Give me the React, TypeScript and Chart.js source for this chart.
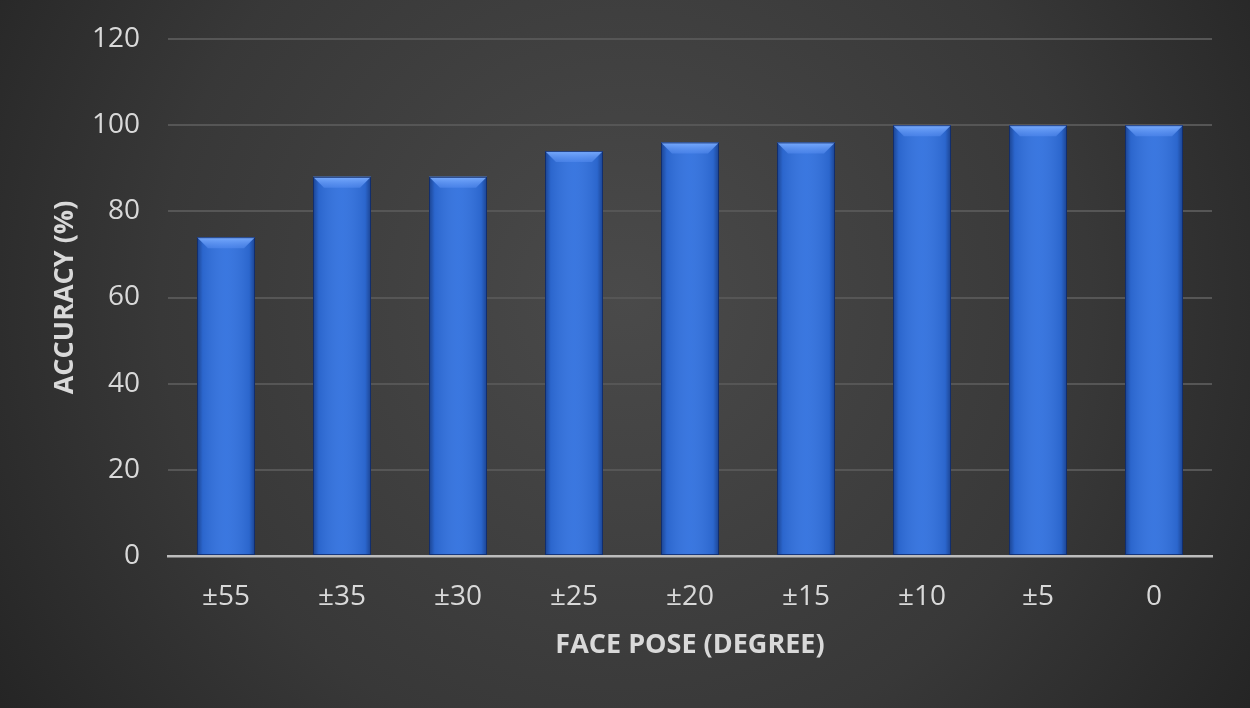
import React, { useEffect, useRef } from "react";
import { Chart, registerables } from "chart.js";

Chart.register(...registerables);

const categories = ["±55", "±35", "±30", "±25", "±20", "±15", "±10", "±5", "0"];
const accuracy = [74, 88, 88, 94, 96, 96, 100, 100, 100];
const yTicks = [0, 20, 40, 60, 80, 100, 120];
const xTitle = "FACE POSE (DEGREE)";
const yTitle = "ACCURACY (%)";

const FONT = "'Open Sans', 'DejaVu Sans', sans-serif";

const bgPlugin = {
  id: "bgPlugin",
  beforeDraw(chart: any) {
    const { ctx, width, height } = chart;
    ctx.save();
    const g = ctx.createRadialGradient(width * 0.5, height * 0.42, 0, width * 0.5, height * 0.42, width * 0.62);
    g.addColorStop(0, "#4a4a4a");
    g.addColorStop(0.6, "#383838");
    g.addColorStop(1, "#232323");
    ctx.fillStyle = g;
    ctx.fillRect(0, 0, width, height);
    ctx.restore();
  },
};

const bevelPlugin = {
  id: "bevelPlugin",
  afterDatasetsDraw(chart: any) {
    const { ctx } = chart;
    const meta = chart.getDatasetMeta(0);
    ctx.save();
    meta.data.forEach((bar: any) => {
      const { x, y, base, width } = bar.getProps(["x", "y", "base", "width"], true);
      const l = x - width / 2;
      const r = x + width / 2;
      const h = base - y;
      const g = ctx.createLinearGradient(l, 0, r, 0);
      g.addColorStop(0, "rgba(10,30,80,0.55)");
      g.addColorStop(0.1, "rgba(10,30,80,0.12)");
      g.addColorStop(0.5, "rgba(255,255,255,0.05)");
      g.addColorStop(0.9, "rgba(10,30,80,0.12)");
      g.addColorStop(1, "rgba(10,30,80,0.55)");
      ctx.fillStyle = g;
      ctx.fillRect(l, y, width, h);
      const b = 11;
      ctx.beginPath();
      ctx.moveTo(l, y);
      ctx.lineTo(r, y);
      ctx.lineTo(r - b, y + b);
      ctx.lineTo(l + b, y + b);
      ctx.closePath();
      const tg = ctx.createLinearGradient(0, y, 0, y + b);
      tg.addColorStop(0, "rgba(125,175,255,0.95)");
      tg.addColorStop(1, "rgba(85,140,240,0.55)");
      ctx.fillStyle = tg;
      ctx.fill();
      ctx.strokeStyle = "rgba(15,40,100,0.8)";
      ctx.lineWidth = 1;
      ctx.strokeRect(l + 0.5, y + 0.5, width - 1, h - 1);
    });
    ctx.restore();
  },
};

export default function App() {
  const ref = useRef<HTMLCanvasElement>(null);
  useEffect(() => {
    document.body.style.margin = "0";
    const chart = new Chart(ref.current as HTMLCanvasElement, {
      type: "bar",
      data: {
        labels: categories,
        datasets: [
          {
            data: accuracy,
            backgroundColor: "#3070de",
            borderWidth: 0,
            barPercentage: 0.5,
            categoryPercentage: 1,
          },
        ],
      },
      options: {
        animation: false,
        responsive: false,
        maintainAspectRatio: false,
        layout: { padding: { top: 39, right: 38, left: 0, bottom: 0 } },
        plugins: { legend: { display: false }, tooltip: { enabled: false } },
        scales: {
          x: {
            grid: { display: false, drawTicks: false },
            border: { display: true, color: "#bdbdbd", width: 2.5 },
            ticks: { color: "#d9d9d9", font: { family: FONT, size: 28 }, padding: 24, maxRotation: 0 },
            title: {
              display: true,
              text: xTitle,
              color: "#d9d9d9",
              font: { family: FONT, size: 27, weight: "bold" },
              padding: { top: 0, bottom: 46 },
            },
            afterFit(scale: any) {
              scale.height = 152;
              scale.paddingLeft = 0;
              scale.paddingRight = 0;
            },
          },
          y: {
            min: 0,
            max: 120,
            afterBuildTicks(scale: any) {
              scale.ticks = yTicks.map((v) => ({ value: v }));
            },
            grid: { color: "#565656", lineWidth: 2, drawTicks: false },
            border: { display: false },
            ticks: { color: "#d9d9d9", font: { family: FONT, size: 28 }, padding: 28 },
            title: {
              display: true,
              text: yTitle,
              color: "#d9d9d9",
              font: { family: FONT, size: 27, weight: "bold" },
              padding: { top: 49, bottom: 0 },
            },
            afterFit(scale: any) {
              scale.width = 168;
              scale.paddingTop = 0;
              scale.paddingBottom = 0;
            },
          },
        },
      },
      plugins: [bgPlugin, bevelPlugin],
    } as any);
    return () => chart.destroy();
  }, []);
  return (
    <div style={{ position: "absolute", left: 0, top: 0, width: 1250, height: 708 }}>
      <canvas ref={ref} width={1250} height={708} style={{ display: "block" }} />
    </div>
  );
}
